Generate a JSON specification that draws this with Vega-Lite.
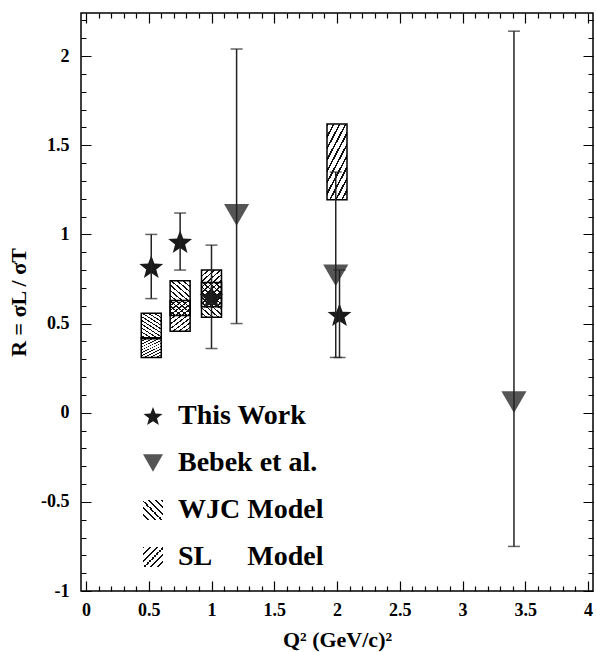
{
  "$schema": "https://vega.github.io/schema/vega-lite/v6.json",
  "width": 512,
  "height": 578,
  "autosize": {"type": "none"},
  "padding": {"left": 81, "top": 13, "right": 4, "bottom": 61},
  "background": "white",
  "params": [
    {"name": "gWJC", "value": {"gradient": "linear", "x1": 1, "y1": 0, "x2": 0.4, "y2": 1.2, "stops": [
      {"offset": 0, "color": "#111"}, {"offset": 0.03, "color": "#111"}, {"offset": 0.03, "color": "rgba(0,0,0,0)"}, {"offset": 0.1, "color": "rgba(0,0,0,0)"},
      {"offset": 0.1, "color": "#111"}, {"offset": 0.13, "color": "#111"}, {"offset": 0.13, "color": "rgba(0,0,0,0)"}, {"offset": 0.2, "color": "rgba(0,0,0,0)"},
      {"offset": 0.2, "color": "#111"}, {"offset": 0.23, "color": "#111"}, {"offset": 0.23, "color": "rgba(0,0,0,0)"}, {"offset": 0.3, "color": "rgba(0,0,0,0)"},
      {"offset": 0.3, "color": "#111"}, {"offset": 0.33, "color": "#111"}, {"offset": 0.33, "color": "rgba(0,0,0,0)"}, {"offset": 0.4, "color": "rgba(0,0,0,0)"},
      {"offset": 0.4, "color": "#111"}, {"offset": 0.43, "color": "#111"}, {"offset": 0.43, "color": "rgba(0,0,0,0)"}, {"offset": 0.5, "color": "rgba(0,0,0,0)"},
      {"offset": 0.5, "color": "#111"}, {"offset": 0.53, "color": "#111"}, {"offset": 0.53, "color": "rgba(0,0,0,0)"}, {"offset": 0.6, "color": "rgba(0,0,0,0)"},
      {"offset": 0.6, "color": "#111"}, {"offset": 0.63, "color": "#111"}, {"offset": 0.63, "color": "rgba(0,0,0,0)"}, {"offset": 0.7, "color": "rgba(0,0,0,0)"},
      {"offset": 0.7, "color": "#111"}, {"offset": 0.73, "color": "#111"}, {"offset": 0.73, "color": "rgba(0,0,0,0)"}, {"offset": 0.8, "color": "rgba(0,0,0,0)"},
      {"offset": 0.8, "color": "#111"}, {"offset": 0.83, "color": "#111"}, {"offset": 0.83, "color": "rgba(0,0,0,0)"}, {"offset": 0.9, "color": "rgba(0,0,0,0)"},
      {"offset": 0.9, "color": "#111"}, {"offset": 0.93, "color": "#111"}, {"offset": 0.93, "color": "rgba(0,0,0,0)"}, {"offset": 1, "color": "rgba(0,0,0,0)"}
    ]}},
    {"name": "gSL", "value": {"gradient": "linear", "x1": 0, "y1": 0, "x2": 0.6, "y2": 1.2, "stops": [
      {"offset": 0, "color": "#111"}, {"offset": 0.03, "color": "#111"}, {"offset": 0.03, "color": "rgba(0,0,0,0)"}, {"offset": 0.1, "color": "rgba(0,0,0,0)"},
      {"offset": 0.1, "color": "#111"}, {"offset": 0.13, "color": "#111"}, {"offset": 0.13, "color": "rgba(0,0,0,0)"}, {"offset": 0.2, "color": "rgba(0,0,0,0)"},
      {"offset": 0.2, "color": "#111"}, {"offset": 0.23, "color": "#111"}, {"offset": 0.23, "color": "rgba(0,0,0,0)"}, {"offset": 0.3, "color": "rgba(0,0,0,0)"},
      {"offset": 0.3, "color": "#111"}, {"offset": 0.33, "color": "#111"}, {"offset": 0.33, "color": "rgba(0,0,0,0)"}, {"offset": 0.4, "color": "rgba(0,0,0,0)"},
      {"offset": 0.4, "color": "#111"}, {"offset": 0.43, "color": "#111"}, {"offset": 0.43, "color": "rgba(0,0,0,0)"}, {"offset": 0.5, "color": "rgba(0,0,0,0)"},
      {"offset": 0.5, "color": "#111"}, {"offset": 0.53, "color": "#111"}, {"offset": 0.53, "color": "rgba(0,0,0,0)"}, {"offset": 0.6, "color": "rgba(0,0,0,0)"},
      {"offset": 0.6, "color": "#111"}, {"offset": 0.63, "color": "#111"}, {"offset": 0.63, "color": "rgba(0,0,0,0)"}, {"offset": 0.7, "color": "rgba(0,0,0,0)"},
      {"offset": 0.7, "color": "#111"}, {"offset": 0.73, "color": "#111"}, {"offset": 0.73, "color": "rgba(0,0,0,0)"}, {"offset": 0.8, "color": "rgba(0,0,0,0)"},
      {"offset": 0.8, "color": "#111"}, {"offset": 0.83, "color": "#111"}, {"offset": 0.83, "color": "rgba(0,0,0,0)"}, {"offset": 0.9, "color": "rgba(0,0,0,0)"},
      {"offset": 0.9, "color": "#111"}, {"offset": 0.93, "color": "#111"}, {"offset": 0.93, "color": "rgba(0,0,0,0)"}, {"offset": 1, "color": "rgba(0,0,0,0)"}
    ]}},
    {"name": "gWJCleg", "value": {"gradient": "linear", "x1": 1, "y1": 0, "x2": 0, "y2": 1, "stops": [
      {"offset": 0, "color": "#111"}, {"offset": 0.05, "color": "#111"}, {"offset": 0.05, "color": "#fff"}, {"offset": 0.1667, "color": "#fff"},
      {"offset": 0.1667, "color": "#111"}, {"offset": 0.2167, "color": "#111"}, {"offset": 0.2167, "color": "#fff"}, {"offset": 0.3333, "color": "#fff"},
      {"offset": 0.3333, "color": "#111"}, {"offset": 0.3833, "color": "#111"}, {"offset": 0.3833, "color": "#fff"}, {"offset": 0.5, "color": "#fff"},
      {"offset": 0.5, "color": "#111"}, {"offset": 0.55, "color": "#111"}, {"offset": 0.55, "color": "#fff"}, {"offset": 0.6667, "color": "#fff"},
      {"offset": 0.6667, "color": "#111"}, {"offset": 0.7167, "color": "#111"}, {"offset": 0.7167, "color": "#fff"}, {"offset": 0.8333, "color": "#fff"},
      {"offset": 0.8333, "color": "#111"}, {"offset": 0.8833, "color": "#111"}, {"offset": 0.8833, "color": "#fff"}, {"offset": 1, "color": "#fff"}
    ]}},
    {"name": "gSLleg", "value": {"gradient": "linear", "x1": 0, "y1": 0, "x2": 1, "y2": 1, "stops": [
      {"offset": 0, "color": "#111"}, {"offset": 0.05, "color": "#111"}, {"offset": 0.05, "color": "#fff"}, {"offset": 0.1667, "color": "#fff"},
      {"offset": 0.1667, "color": "#111"}, {"offset": 0.2167, "color": "#111"}, {"offset": 0.2167, "color": "#fff"}, {"offset": 0.3333, "color": "#fff"},
      {"offset": 0.3333, "color": "#111"}, {"offset": 0.3833, "color": "#111"}, {"offset": 0.3833, "color": "#fff"}, {"offset": 0.5, "color": "#fff"},
      {"offset": 0.5, "color": "#111"}, {"offset": 0.55, "color": "#111"}, {"offset": 0.55, "color": "#fff"}, {"offset": 0.6667, "color": "#fff"},
      {"offset": 0.6667, "color": "#111"}, {"offset": 0.7167, "color": "#111"}, {"offset": 0.7167, "color": "#fff"}, {"offset": 0.8333, "color": "#fff"},
      {"offset": 0.8333, "color": "#111"}, {"offset": 0.8833, "color": "#111"}, {"offset": 0.8833, "color": "#fff"}, {"offset": 1, "color": "#fff"}
    ]}}
  ],
  "config": {
    "font": "Liberation Serif",
    "view": {"stroke": "black", "strokeWidth": 1.5},
    "axis": {
      "labelFont": "Liberation Serif", "labelFontWeight": "bold", "labelFontSize": 18, "labelColor": "black",
      "titleFont": "Liberation Serif", "titleFontWeight": "bold", "titleFontSize": 22, "titleColor": "black",
      "domain": false, "ticks": false, "grid": true, "gridColor": "black", "gridOpacity": 1, "gridWidth": 1.2
    }
  },
  "datasets": {
    "pts": [
      {"q2": 0.52, "R": 0.82, "lo": 0.64, "hi": 1.0, "series": "This Work"},
      {"q2": 0.75, "R": 0.96, "lo": 0.80, "hi": 1.12, "series": "This Work"},
      {"q2": 1.0, "R": 0.65, "lo": 0.36, "hi": 0.94, "series": "This Work"},
      {"q2": 2.02, "R": 0.55, "lo": 0.31, "hi": 0.80, "series": "This Work"},
      {"q2": 1.2, "R": 1.11, "lo": 0.50, "hi": 2.04, "series": "Bebek et al."},
      {"q2": 1.99, "R": 0.77, "lo": 0.31, "hi": 1.35, "series": "Bebek et al."},
      {"q2": 3.41, "R": 0.06, "lo": -0.75, "hi": 2.14, "series": "Bebek et al."}
    ],
    "models": [
      {"q2": 0.52, "series": "WJC Model", "lo": 0.415, "hi": 0.558},
      {"q2": 0.52, "series": "SL Model", "lo": 0.31, "hi": 0.42},
      {"q2": 0.75, "series": "WJC Model", "lo": 0.545, "hi": 0.74},
      {"q2": 0.75, "series": "SL Model", "lo": 0.457, "hi": 0.63},
      {"q2": 1.0, "series": "SL Model", "lo": 0.595, "hi": 0.80},
      {"q2": 1.0, "series": "WJC Model", "lo": 0.535, "hi": 0.73},
      {"q2": 2.0, "series": "SL Model", "lo": 1.195, "hi": 1.62}
    ]
  },
  "encoding": {
    "x": {
      "type": "quantitative",
      "scale": {"domain": [0, 4], "nice": false, "zero": false},
      "axis": {
        "orient": "bottom", "title": "Q² (GeV/c)²", "titlePadding": 10,
        "values": [0,0.1,0.2,0.3,0.4,0.5,0.6,0.7,0.8,0.9,1,1.1,1.2,1.3,1.4,1.5,1.6,1.7,1.8,1.9,2,2.1,2.2,2.3,2.4,2.5,2.6,2.7,2.8,2.9,3,3.1,3.2,3.3,3.4,3.5,3.6,3.7,3.8,3.9,4],
        "labelExpr": "abs(round(datum.value*10)) % 5 === 0 ? '' + round(datum.value*10)/10 : ''",
        "gridDash": {"condition": {"test": "abs(round(datum.value*10)) % 5 === 0", "value": [10, 558, 10]}, "value": [5, 568, 5]},
        "labelPadding": 10, "labelFlush": false, "labelOverlap": false
      }
    },
    "y": {
      "type": "quantitative",
      "scale": {"domain": [-1, 2.242], "nice": false, "zero": false},
      "axis": {
        "orient": "left", "title": "R = σL / σT", "titlePadding": 10,
        "values": [-1,-0.9,-0.8,-0.7,-0.6,-0.5,-0.4,-0.3,-0.2,-0.1,0,0.1,0.2,0.3,0.4,0.5,0.6,0.7,0.8,0.9,1,1.1,1.2,1.3,1.4,1.5,1.6,1.7,1.8,1.9,2,2.1,2.2],
        "labelExpr": "abs(round(datum.value*10)) % 5 === 0 ? '' + round(datum.value*10)/10 : ''",
        "gridDash": {"condition": {"test": "abs(round(datum.value*10)) % 5 === 0", "value": [10, 492, 10]}, "value": [5, 502, 5]},
        "labelPadding": 12, "labelFlush": false, "labelOverlap": false
      }
    }
  },
  "layer": [
    {
      "data": {"name": "models"},
      "transform": [{"filter": "datum.series === 'WJC Model'"}],
      "mark": {"type": "bar", "width": 20, "stroke": "black", "strokeWidth": 1.5, "fill": {"expr": "gWJC"}},
      "encoding": {
        "x": {"field": "q2", "type": "quantitative"},
        "y": {"field": "lo", "type": "quantitative"},
        "y2": {"field": "hi"}
      }
    },
    {
      "data": {"name": "models"},
      "transform": [{"filter": "datum.series === 'SL Model'"}],
      "mark": {"type": "bar", "width": 20, "stroke": "black", "strokeWidth": 1.5, "fill": {"expr": "gSL"}},
      "encoding": {
        "x": {"field": "q2", "type": "quantitative"},
        "y": {"field": "lo", "type": "quantitative"},
        "y2": {"field": "hi"}
      }
    },
    {
      "data": {"name": "pts"},
      "mark": {"type": "point", "filled": true, "opacity": 1, "size": 630},
      "encoding": {
        "x": {"field": "q2", "type": "quantitative"},
        "y": {"field": "R", "type": "quantitative"},
        "color": {
          "field": "series", "type": "nominal",
          "scale": {
            "domain": ["This Work", "Bebek et al.", "WJC Model", "SL Model"],
            "range": ["#1a1a1a", "#555555", {"expr": "gWJCleg"}, {"expr": "gSLleg"}]
          },
          "legend": {
            "orient": "none", "legendX": 58, "legendY": 389, "title": null,
            "labelFont": "Liberation Serif", "labelFontWeight": "bold", "labelFontSize": 28, "labelColor": "black",
            "labelLimit": 400, "rowPadding": 19, "labelOffset": 11, "padding": 0, "symbolSize": 400,
            "labelExpr": "datum.label === 'SL Model' ? 'SL\u00a0\u00a0\u00a0\u00a0\u00a0Model' : datum.label",
            "encode": {"symbols": {"update": {
              "size": {"signal": "datum.value === 'This Work' ? 360 : datum.value === 'Bebek et al.' ? 160 : 440"},
              "stroke": {"signal": "indexof(datum.value, 'Model') >= 0 ? 'black' : 'transparent'"},
              "strokeWidth": {"value": 1.5},
              "opacity": {"value": 1}
            }}}
          }
        },
        "shape": {
          "field": "series", "type": "nominal",
          "scale": {
            "domain": ["This Work", "Bebek et al.", "WJC Model", "SL Model"],
            "range": ["M0,-0.9L0.2469,-0.2398L0.9511,-0.209L0.3995,0.2298L0.5878,0.909L0,0.52L-0.5878,0.909L-0.3995,0.2298L-0.9511,-0.209L-0.2469,-0.2398Z", "triangle-down", "square", "square"]
          },
          "legend": {
            "orient": "none", "legendX": 58, "legendY": 389, "title": null,
            "labelFont": "Liberation Serif", "labelFontWeight": "bold", "labelFontSize": 28, "labelColor": "black",
            "labelLimit": 400, "rowPadding": 19, "labelOffset": 11, "padding": 0, "symbolSize": 400,
            "labelExpr": "datum.label === 'SL Model' ? 'SL\u00a0\u00a0\u00a0\u00a0\u00a0Model' : datum.label"
          }
        }
      }
    },
    {
      "data": {"name": "pts"},
      "mark": {"type": "rule", "color": "#222", "strokeWidth": 1.5},
      "encoding": {
        "x": {"field": "q2", "type": "quantitative"},
        "y": {"field": "lo", "type": "quantitative"},
        "y2": {"field": "hi"}
      }
    },
    {
      "data": {"name": "pts"},
      "mark": {"type": "tick", "orient": "horizontal", "color": "#222", "size": 12, "thickness": 1.5},
      "encoding": {
        "x": {"field": "q2", "type": "quantitative"},
        "y": {"field": "lo", "type": "quantitative"}
      }
    },
    {
      "data": {"name": "pts"},
      "mark": {"type": "tick", "orient": "horizontal", "color": "#222", "size": 12, "thickness": 1.5},
      "encoding": {
        "x": {"field": "q2", "type": "quantitative"},
        "y": {"field": "hi", "type": "quantitative"}
      }
    }
  ]
}
